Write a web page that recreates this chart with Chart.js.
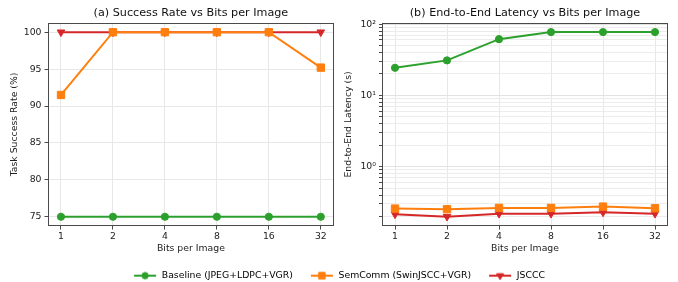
<!DOCTYPE html>
<html><head><meta charset="utf-8">
<script src="https://cdn.jsdelivr.net/npm/chart.js@4.4.1/dist/chart.umd.min.js"></script>
<style>
html,body{margin:0;padding:0;background:#fff;}
#wrap{position:relative;width:678px;height:282px;overflow:hidden;}
canvas{position:absolute;display:block;}
</style></head><body>
<div id="wrap">
<canvas id="c1" width="340" height="260" style="left:0;top:0;width:340px;height:260px"></canvas>
<canvas id="c2" width="338" height="260" style="left:340px;top:0;width:338px;height:260px"></canvas>
<canvas id="c3" width="678" height="90" style="left:0;top:254px;width:678px;height:90px"></canvas>
</div>
<script>
// ---- data ----
const bitsLabels = ['1', '2', '4', '8', '16', '32'];
const seriesNames = ['Baseline (JPEG+LDPC+VGR)', 'SemComm (SwinJSCC+VGR)', 'JSCCC'];
const successBaseline = [75, 75, 75, 75, 75, 75];
const successSemComm = [91.5, 100, 100, 100, 100, 95.2];
const successJSCCC = [100, 100, 100, 100, 100, 100];
const latencyBaseline = [24.4, 31.0, 61.6, 77.3, 77.3, 77.3];
const latencySemComm = [0.258, 0.253, 0.264, 0.264, 0.275, 0.261];
const latencyJSCCC = [0.215, 0.199, 0.219, 0.219, 0.229, 0.219];
const successTicks = [75, 80, 85, 90, 95, 100];
const latencyMajorTicks = [1, 10, 100];
const latencyMajorLabels = ['10\u2070', '10\u00b9', '10\u00b2'];
const latencyMinorTicks = [0.2, 0.3, 0.4, 0.5, 0.6, 0.7, 0.8, 0.9, 2, 3, 4, 5, 6, 7, 8, 9, 20, 30, 40, 50, 60, 70, 80, 90];

// ---- styles ----
const FONT = 'DejaVu Sans';
const FS = 9.3;
const COLORS = ['#2ca02c', '#ff7f0e', '#d62728'];
const STYLES = ['circle', 'rect', 'triangle'];
const RADII = [3.6, 5.2, 4.4];
const ROT = [0, 0, 180];
const GRID = '#e8e8e8';
const FRAME = '#4a4a4a';

function toPoints(vals) { return vals.map((v, i) => ({x: i, y: v})); }
function ds(i, vals) {
  return {
    label: seriesNames[i], data: toPoints(vals),
    borderColor: COLORS[i], backgroundColor: COLORS[i],
    borderWidth: 2, pointStyle: STYLES[i], pointRadius: RADII[i], pointRotation: ROT[i],
    pointBorderWidth: 1, pointBorderColor: COLORS[i], pointBackgroundColor: COLORS[i],
    pointHoverRadius: RADII[i], tension: 0, clip: false
  };
}

const framePlugin = {
  id: 'frame',
  afterDatasetsDraw(chart) {
    const {ctx, chartArea: a} = chart;
    ctx.save();
    ctx.strokeStyle = FRAME; ctx.lineWidth = 1;
    ctx.strokeRect(Math.round(a.left) + 0.5, Math.round(a.top) + 0.5,
      Math.round(a.right - a.left) - 1, Math.round(a.bottom - a.top) - 1);
    ctx.restore();
  }
};

function xScale() {
  return {
    type: 'linear', min: -0.25, max: 5.25,
    afterBuildTicks: s => { s.ticks = bitsLabels.map((_, i) => ({value: i})); },
    afterFit: s => { s.height = 34; },
    ticks: {callback: v => bitsLabels[v], autoSkip: false, maxRotation: 0, color: '#222', font: {family: FONT, size: FS}, padding: 2},
    grid: {color: GRID, tickColor: FRAME, tickLength: 3.5, lineWidth: 1},
    border: {display: false},
    title: {display: true, text: 'Bits per Image', color: '#222', font: {family: FONT, size: FS}, padding: {top: 0, bottom: 5.4}}
  };
}

function titleOpts(text) {
  return {display: true, text, fullSize: false, color: '#111', font: {family: FONT, size: 11.2, weight: 'normal'}, padding: {top: 6.5, bottom: 3}};
}

Chart.defaults.font.family = FONT;

new Chart(document.getElementById('c1'), {
  type: 'line',
  data: {datasets: [ds(0, successBaseline), ds(1, successSemComm), ds(2, successJSCCC)]},
  options: {
    responsive: false, animation: false, devicePixelRatio: 1,
    layout: {padding: {left: 0, right: 6, top: 0, bottom: 0}},
    plugins: {legend: {display: false}, tooltip: {enabled: false}, title: titleOpts('(a) Success Rate vs Bits per Image')},
    scales: {
      x: xScale(),
      y: {
        type: 'linear', min: 73.75, max: 101.25,
        afterBuildTicks: s => { s.ticks = successTicks.map(v => ({value: v})); },
        afterFit: s => { s.width = 48; },
        ticks: {autoSkip: false, color: '#222', font: {family: FONT, size: FS}, padding: 3},
        grid: {color: GRID, tickColor: FRAME, tickLength: 3.5},
        border: {display: false},
        title: {display: true, text: 'Task Success Rate (%)', color: '#222', font: {family: FONT, size: FS}, padding: {top: 9.4, bottom: 0}}
      }
    }
  },
  plugins: [framePlugin]
});

new Chart(document.getElementById('c2'), {
  type: 'line',
  data: {datasets: [ds(0, latencyBaseline), ds(1, latencySemComm), ds(2, latencyJSCCC)]},
  options: {
    responsive: false, animation: false, devicePixelRatio: 1,
    layout: {padding: {left: 0, right: 10, top: 0, bottom: 0}},
    plugins: {legend: {display: false}, tooltip: {enabled: false}, title: titleOpts('(b) End-to-End Latency vs Bits per Image')},
    scales: {
      x: xScale(),
      y: {
        type: 'logarithmic', min: 0.147, max: 104,
        afterBuildTicks: s => {
          const all = latencyMinorTicks.concat(latencyMajorTicks).sort((a, b) => a - b);
          s.ticks = all.map(v => ({value: v, major: latencyMajorTicks.includes(v)}));
        },
        afterFit: s => { s.width = 42; },
        ticks: {
          autoSkip: false, color: '#222', font: {family: FONT, size: FS}, padding: 3,
          callback: v => { const k = latencyMajorTicks.indexOf(v); return k >= 0 ? latencyMajorLabels[k] : ''; }
        },
        grid: {
          color: c => (c.tick && latencyMajorTicks.includes(c.tick.value)) ? '#e2e2e2' : '#ececec',
          tickColor: FRAME, tickLength: 3
        },
        border: {display: false},
        title: {display: true, text: 'End-to-End Latency (s)', color: '#222', font: {family: FONT, size: FS}, padding: {top: 3.4, bottom: 0}}
      }
    }
  },
  plugins: [framePlugin]
});

// legend swatches
const LEG_RADII = [3.2, 4.6, 4.0];
function swatch(i) {
  const c = document.createElement('canvas');
  c.width = 24; c.height = 12;
  const g = c.getContext('2d');
  g.strokeStyle = COLORS[i]; g.lineWidth = 2;
  g.beginPath(); g.moveTo(1, 6); g.lineTo(23, 6); g.stroke();
  g.fillStyle = COLORS[i]; g.strokeStyle = COLORS[i]; g.lineWidth = 1;
  if (Chart.helpers && Chart.helpers.drawPoint) {
    Chart.helpers.drawPoint(g, {pointStyle: STYLES[i], radius: LEG_RADII[i], rotation: ROT[i], borderWidth: 1}, 12, 6);
  } else {
    g.beginPath();
    if (i === 0) { g.arc(12, 6, LEG_RADII[0], 0, Math.PI * 2); }
    else if (i === 1) { const h = LEG_RADII[1] * Math.SQRT1_2; g.rect(12 - h, 6 - h, 2 * h, 2 * h); }
    else { const r = LEG_RADII[2]; g.moveTo(12, 6 + r); g.lineTo(12 - r * 0.866, 6 - r / 2); g.lineTo(12 + r * 0.866, 6 - r / 2); g.closePath(); }
    g.fill(); g.stroke();
  }
  return c;
}

new Chart(document.getElementById('c3'), {
  type: 'line',
  data: {datasets: seriesNames.map((n, i) => ({label: n, data: [], borderColor: COLORS[i], backgroundColor: COLORS[i]}))},
  options: {
    responsive: false, animation: false, devicePixelRatio: 1,
    layout: {padding: 0},
    scales: {x: {display: false}, y: {display: false}},
    plugins: {
      tooltip: {enabled: false},
      title: {display: false},
      legend: {
        display: true, position: 'top',
        labels: {
          usePointStyle: true, pointStyleWidth: 24, padding: 17, color: '#222', font: {family: FONT, size: FS},
          generateLabels: chart => seriesNames.map((n, i) => ({
            text: n, pointStyle: swatch(i), fillStyle: COLORS[i], strokeStyle: COLORS[i], lineWidth: 0, datasetIndex: i, hidden: false
          }))
        }
      }
    }
  }
});
</script>
</body></html>
